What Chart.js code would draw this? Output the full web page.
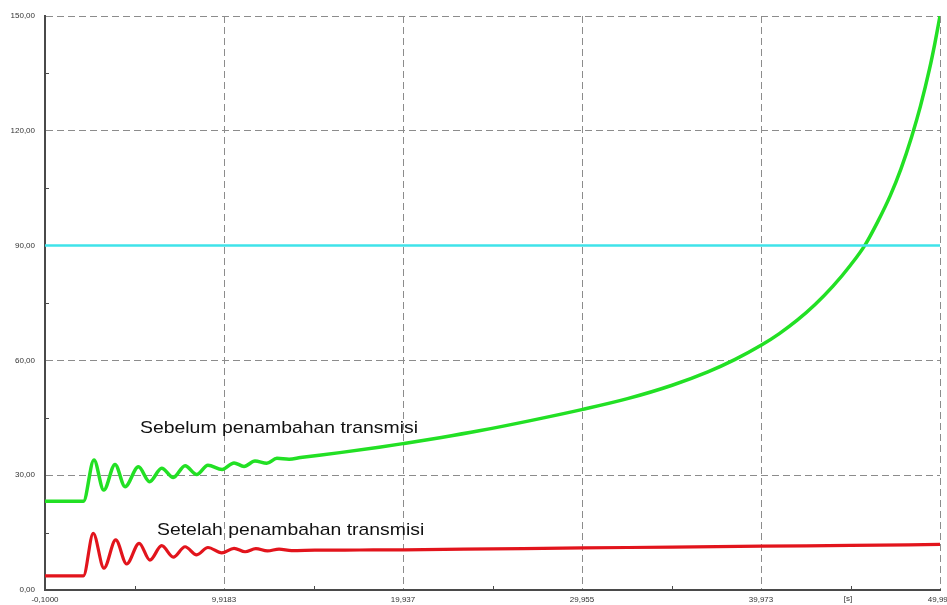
<!DOCTYPE html>
<html>
<head>
<meta charset="utf-8">
<script src="https://cdn.jsdelivr.net/npm/chart.js@4.4.1/dist/chart.umd.min.js"></script>
<style>
  html, body { margin: 0; padding: 0; background: #ffffff; overflow: hidden; }
  #wrap { position: relative; width: 960px; height: 605px; }
</style>
</head>
<body>
<div id="wrap"><canvas id="c" width="960" height="605"></canvas></div>
<script>
// Axis ticks (time in seconds, angle in degrees)
const xMajorTicks = [-0.1, 9.9183, 19.937, 29.955, 39.973, 49.99];
const xTickLabels = ['-0,1000', '9,9183', '19,937', '29,955', '39,973', '49,990'];
const yMajorTicks = [0, 30, 60, 90, 120, 150];
const yTickLabels = ['0,00', '30,00', '60,00', '90,00', '120,00', '150,00'];

// Rotor angle before adding the transmission line
const sebelumTime = [-0.1, 2.05, 2.64, 3.19, 3.82, 4.38, 5.13, 5.75, 6.43, 7.08, 7.74, 8.39, 9.02, 9.81,
  10.48, 11.04, 11.65, 12.31, 12.88, 13.56, 14.2, 16.4, 18.6, 20.0, 22.0, 24.2, 27.0, 30.0, 32.5,
  35.0, 37.0, 38.5, 40.0, 41.0, 42.0, 43.0, 44.0, 45.0, 45.8, 46.5, 47.2, 47.8, 48.4, 48.9,
  49.4, 49.7, 49.99];
const sebelumValue = [23.2, 23.2, 34.0, 26.1, 32.8, 27.0, 32.2, 28.3, 31.8, 29.4, 32.5, 30.2, 32.6, 31.5,
  33.2, 32.3, 33.7, 33.1, 34.4, 34.2, 34.6, 35.9, 37.3, 38.3, 39.8, 41.6, 44.2, 47.2, 50.0,
  53.5, 57.0, 60.2, 64.0, 67.0, 70.5, 74.6, 79.4, 85.0, 90.2, 96.2, 103.0, 110.0, 118.4, 126.5,
  136.1, 142.8, 150.0];

// Rotor angle after adding the transmission line
const setelahTime = [-0.1, 2.05, 2.6, 3.2, 3.86, 4.47, 5.17, 5.77, 6.43, 7.08, 7.74, 8.39, 9.02, 9.79,
  10.48, 11.1, 11.7, 12.35, 13.0, 13.7, 15.0, 17.5, 20.0, 25.0, 30.0, 35.0, 40.0, 45.0, 49.99];
const setelahValue = [3.7, 3.7, 14.8, 5.7, 13.1, 6.8, 12.2, 7.8, 11.6, 8.6, 11.3, 9.2, 11.1, 9.7,
  10.9, 10.0, 10.8, 10.2, 10.7, 10.3, 10.4, 10.45, 10.5, 10.75, 11.0, 11.2, 11.45, 11.65, 11.9];

// Stability limit
const limitTime = [-0.1, 49.99];
const limitValue = [90, 90];

// Curve captions: [text, time, angle]
const captions = [
  ['Sebelum penambahan transmisi', 5.22, 42.3],
  ['Setelah penambahan transmisi', 6.17, 15.7]
];
const unitLabel = '[s]';
const unitAt = 44.84;

const FONT = '"Liberation Sans", Arial, sans-serif';

function pts(xs, ys) { return xs.map((x, i) => ({ x: x, y: ys[i] })); }
function withMinor(major) {
  const out = [];
  for (let i = 0; i < major.length; i++) {
    out.push(major[i]);
    if (i < major.length - 1) out.push((major[i] + major[i + 1]) / 2);
  }
  return out;
}
const xAllTicks = withMinor(xMajorTicks);
const yAllTicks = withMinor(yMajorTicks);
const isMajor = (arr, v) => arr.some(m => Math.abs(m - v) < 1e-6);

const AXIS_COLOR = '#4a4a4a';
const GRID_COLOR = '#8c8c8c';

const extras = {
  id: 'extras',
  beforeDatasetsDraw(chart) {
    // short inward tick marks between the labelled ticks
    const { ctx, scales: { x, y } } = chart;
    ctx.save();
    ctx.strokeStyle = AXIS_COLOR;
    ctx.lineWidth = 1;
    ctx.beginPath();
    xAllTicks.forEach(v => {
      if (isMajor(xMajorTicks, v)) return;
      const px = Math.round(x.getPixelForValue(v)) + 0.5;
      ctx.moveTo(px, y.bottom);
      ctx.lineTo(px, y.bottom - 4);
    });
    yAllTicks.forEach(v => {
      if (isMajor(yMajorTicks, v)) return;
      const py = Math.round(y.getPixelForValue(v)) + 0.5;
      ctx.moveTo(x.left, py);
      ctx.lineTo(x.left + 4, py);
    });
    ctx.stroke();
    ctx.restore();
  },
  afterDatasetsDraw(chart) {
    const { ctx, scales: { x, y } } = chart;
    ctx.save();
    ctx.fillStyle = '#111111';
    ctx.font = '17px ' + FONT;
    ctx.textBaseline = 'middle';
    ctx.textAlign = 'left';
    captions.forEach(([text, t, v]) => {
      ctx.save();
      ctx.translate(x.getPixelForValue(t), y.getPixelForValue(v));
      ctx.scale(1.14, 1);
      ctx.fillText(text, 0, 0);
      ctx.restore();
    });
    ctx.fillStyle = '#333333';
    ctx.font = '8px ' + FONT;
    ctx.textAlign = 'center';
    ctx.textBaseline = 'top';
    ctx.fillText(unitLabel, x.getPixelForValue(unitAt), y.bottom + 5);
    ctx.restore();
  }
};

new Chart(document.getElementById('c'), {
  type: 'line',
  data: {
    datasets: [
      {
        label: 'Batas',
        data: pts(limitTime, limitValue),
        borderColor: '#3fe3ea',
        borderWidth: 2.5,
        pointRadius: 0,
        tension: 0
      },
      {
        label: 'Sebelum penambahan transmisi',
        data: pts(sebelumTime, sebelumValue),
        borderColor: '#22e024',
        borderWidth: 3.5,
        pointRadius: 0,
        cubicInterpolationMode: 'monotone'
      },
      {
        label: 'Setelah penambahan transmisi',
        data: pts(setelahTime, setelahValue),
        borderColor: '#e2141c',
        borderWidth: 3.2,
        pointRadius: 0,
        cubicInterpolationMode: 'monotone'
      }
    ]
  },
  options: {
    responsive: false,
    animation: false,
    devicePixelRatio: 1,
    layout: { padding: { top: 16, right: 20, left: 0, bottom: 0 } },
    plugins: { legend: { display: false }, tooltip: { enabled: false } },
    scales: {
      x: {
        type: 'linear',
        min: -0.1,
        max: 49.99,
        afterBuildTicks: s => { s.ticks = xAllTicks.map(v => ({ value: v })); },
        afterFit: s => { s.height = 15; },
        ticks: {
          autoSkip: false,
          maxRotation: 0,
          padding: 5,
          color: '#333333',
          font: { size: 8, family: FONT },
          callback: (val) => {
            const k = xMajorTicks.findIndex(m => Math.abs(m - val) < 1e-6);
            return k >= 0 ? xTickLabels[k] : '';
          }
        },
        grid: {
          drawTicks: false,
          lineWidth: 1,
          color: c => (c.tick && isMajor(xMajorTicks, c.tick.value)) ? GRID_COLOR : 'transparent'
        },
        border: { display: true, color: AXIS_COLOR, width: 2, dash: [7, 4] }
      },
      y: {
        type: 'linear',
        min: 0,
        max: 150,
        afterBuildTicks: s => { s.ticks = yAllTicks.map(v => ({ value: v })); },
        afterFit: s => { s.width = 45; },
        ticks: {
          autoSkip: false,
          padding: 10,
          color: '#333333',
          font: { size: 8, family: FONT },
          callback: (val) => {
            const k = yMajorTicks.findIndex(m => Math.abs(m - val) < 1e-6);
            return k >= 0 ? yTickLabels[k] : '';
          }
        },
        grid: {
          drawTicks: false,
          lineWidth: 1,
          color: c => (c.tick && isMajor(yMajorTicks, c.tick.value)) ? GRID_COLOR : 'transparent'
        },
        border: { display: true, color: AXIS_COLOR, width: 2, dash: [7, 4] }
      }
    }
  },
  plugins: [extras]
});
</script>
</body>
</html>
